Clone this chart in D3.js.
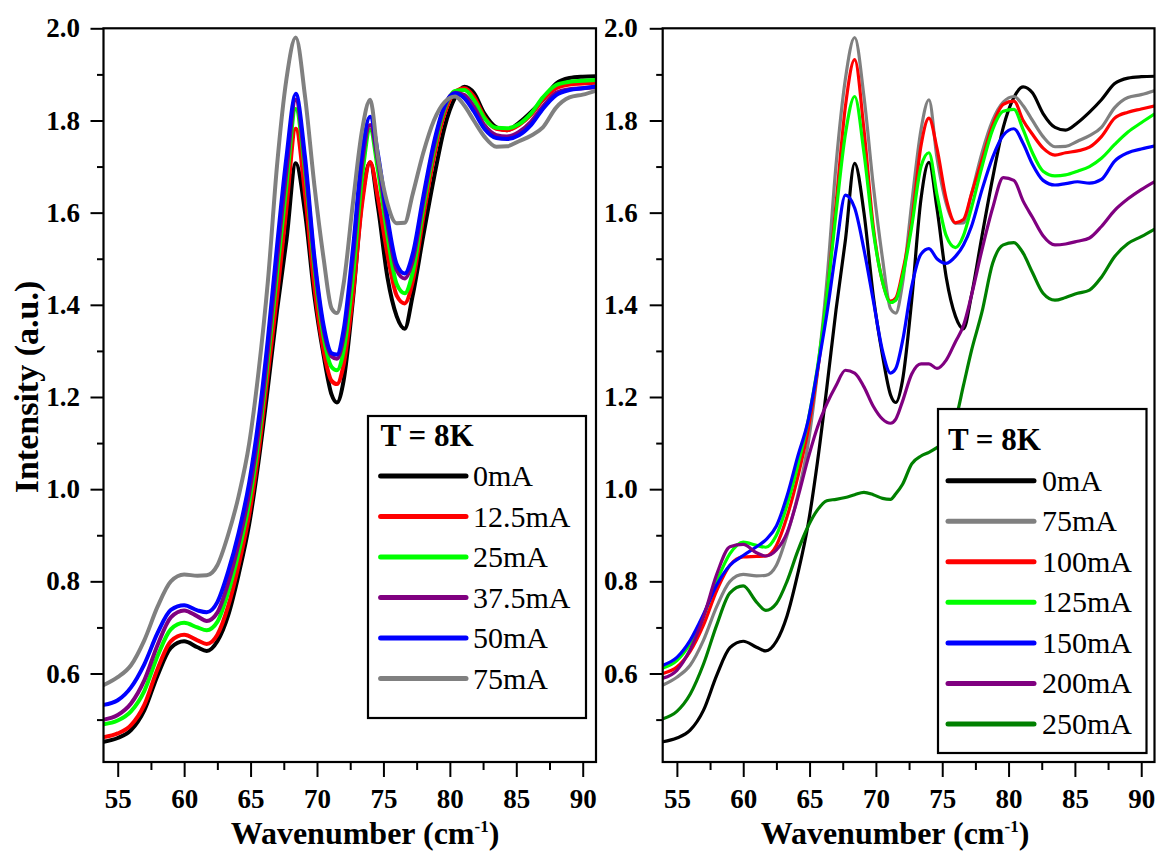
<!DOCTYPE html>
<html><head><meta charset="utf-8">
<script src="https://cdn.jsdelivr.net/npm/d3@7"></script>
<style>
html,body{margin:0;padding:0;background:#fff;}
svg{display:block;}
text{font-family:"Liberation Serif","Times New Roman",serif;fill:#000;}
</style></head><body>
<svg id="chart" width="1157" height="853"></svg>
<script>
// ---- data ----
const wavenumber = [53.95,55,56,57,58,59,60,61,61.7,62.5,63.3,64.1,64.9,65.6,66.3,67,67.7,68.4,69.1,69.8,70.5,71.1,71.5,72,72.7,73.4,74,74.6,75.3,76,76.6,77.2,78,78.8,79.6,80.4,81.1,81.8,82.6,83.5,84.3,85.2,86.1,87,88,89,90,91.05];

const s0mA   = [0.452,0.460,0.477,0.520,0.596,0.656,0.670,0.657,0.649,0.670,0.725,0.815,0.925,1.060,1.220,1.390,1.540,1.707,1.600,1.420,1.290,1.205,1.188,1.235,1.410,1.630,1.709,1.610,1.460,1.375,1.348,1.420,1.550,1.675,1.785,1.850,1.873,1.860,1.815,1.785,1.779,1.795,1.818,1.845,1.880,1.892,1.895,1.896];
const s12_5mA= [0.462,0.470,0.488,0.532,0.610,0.670,0.684,0.672,0.664,0.684,0.745,0.835,0.945,1.080,1.250,1.420,1.610,1.782,1.640,1.440,1.300,1.235,1.228,1.270,1.420,1.620,1.710,1.630,1.510,1.420,1.403,1.450,1.590,1.720,1.815,1.862,1.870,1.852,1.808,1.782,1.779,1.790,1.812,1.845,1.870,1.878,1.880,1.882];
const s25mA  = [0.490,0.498,0.518,0.562,0.638,0.696,0.710,0.700,0.694,0.712,0.775,0.862,0.972,1.105,1.280,1.470,1.660,1.825,1.690,1.480,1.330,1.265,1.258,1.300,1.460,1.680,1.780,1.690,1.550,1.445,1.425,1.470,1.610,1.735,1.825,1.864,1.866,1.845,1.805,1.784,1.783,1.792,1.815,1.850,1.877,1.884,1.886,1.888];
const s37_5mA= [0.500,0.510,0.535,0.585,0.662,0.722,0.737,0.724,0.714,0.732,0.795,0.882,0.992,1.125,1.300,1.500,1.690,1.845,1.705,1.495,1.345,1.288,1.283,1.330,1.500,1.710,1.790,1.710,1.575,1.475,1.457,1.495,1.625,1.745,1.830,1.860,1.855,1.830,1.790,1.768,1.765,1.775,1.797,1.830,1.860,1.868,1.870,1.872];
const s50mA  = [0.532,0.542,0.570,0.620,0.688,0.738,0.748,0.737,0.733,0.755,0.820,0.905,1.015,1.150,1.325,1.530,1.720,1.858,1.720,1.505,1.355,1.295,1.292,1.345,1.520,1.730,1.808,1.725,1.590,1.488,1.468,1.510,1.635,1.752,1.832,1.859,1.848,1.820,1.782,1.762,1.760,1.768,1.790,1.825,1.855,1.866,1.870,1.874];
const s75mA  = [0.575,0.592,0.618,0.672,0.745,0.800,0.815,0.812,0.813,0.835,0.900,0.985,1.100,1.255,1.450,1.705,1.890,1.980,1.852,1.660,1.500,1.392,1.382,1.445,1.620,1.780,1.845,1.720,1.620,1.577,1.578,1.640,1.730,1.800,1.840,1.852,1.832,1.800,1.765,1.743,1.744,1.755,1.767,1.785,1.828,1.850,1.856,1.865];
const s100mA = [0.600,0.614,0.648,0.705,0.780,0.835,0.853,0.854,0.855,0.878,0.940,1.025,1.130,1.255,1.418,1.620,1.830,1.932,1.780,1.570,1.450,1.408,1.415,1.470,1.580,1.745,1.805,1.740,1.630,1.578,1.585,1.640,1.715,1.790,1.835,1.842,1.800,1.770,1.740,1.725,1.730,1.734,1.742,1.765,1.805,1.818,1.825,1.832];
const s125mA = [0.612,0.628,0.665,0.725,0.800,0.860,0.885,0.878,0.874,0.900,0.965,1.050,1.150,1.265,1.418,1.600,1.770,1.852,1.730,1.560,1.450,1.405,1.410,1.460,1.570,1.700,1.730,1.640,1.550,1.524,1.550,1.610,1.700,1.780,1.820,1.824,1.780,1.730,1.690,1.680,1.682,1.690,1.700,1.718,1.748,1.775,1.795,1.815];
const s150mA = [0.618,0.635,0.672,0.728,0.792,0.835,0.856,0.875,0.890,0.920,0.985,1.070,1.150,1.260,1.380,1.520,1.638,1.610,1.520,1.410,1.300,1.252,1.262,1.320,1.440,1.510,1.522,1.500,1.490,1.505,1.530,1.570,1.650,1.720,1.768,1.782,1.750,1.705,1.670,1.660,1.663,1.667,1.664,1.672,1.712,1.730,1.738,1.745];
const s200mA = [0.590,0.607,0.652,0.722,0.815,0.875,0.880,0.862,0.855,0.868,0.905,0.980,1.068,1.135,1.185,1.225,1.258,1.252,1.222,1.180,1.152,1.143,1.152,1.190,1.250,1.272,1.272,1.262,1.280,1.320,1.355,1.420,1.520,1.610,1.676,1.670,1.625,1.590,1.550,1.530,1.532,1.538,1.545,1.570,1.605,1.630,1.650,1.668];
const s250mA = [0.502,0.518,0.555,0.620,0.705,0.775,0.790,0.755,0.737,0.752,0.800,0.865,0.920,0.955,0.975,0.978,0.982,0.988,0.993,0.988,0.980,0.978,0.990,1.010,1.055,1.072,1.080,1.090,1.105,1.150,1.225,1.300,1.385,1.490,1.530,1.535,1.512,1.470,1.425,1.410,1.416,1.425,1.432,1.460,1.505,1.533,1.548,1.565];

const leftLabels  = ["0mA","12.5mA","25mA","37.5mA","50mA","75mA"];
const leftSeries  = [s0mA,s12_5mA,s25mA,s37_5mA,s50mA,s75mA];
const leftColors  = ["#000000","#ff0000","#00ff00","#800080","#0000ff","#808080"];
const rightLabels = ["0mA","75mA","100mA","125mA","150mA","200mA","250mA"];
const rightSeries = [s0mA,s75mA,s100mA,s125mA,s150mA,s200mA,s250mA];
const rightColors = ["#000000","#808080","#ff0000","#00ff00","#0000ff","#800080","#008000"];

const xMajorTicks = [55,60,65,70,75,80,85,90];
const xMinorTicks = [57.5,62.5,67.5,72.5,77.5,82.5,87.5];
const yMajorTicks = [0.6,0.8,1.0,1.2,1.4,1.6,1.8,2.0];
const yMinorTicks = [0.5,0.7,0.9,1.1,1.3,1.5,1.7,1.9];
const legendTitle = "T = 8K";
const xTitle = "Wavenumber (cm";
const yTitle = "Intensity (a.u.)";

// ---- layout ----
const svg = d3.select("#chart");
const yTop = 28.3, yBottom = 762;
const y = d3.scaleLinear().domain([0.408, 2.0]).range([yBottom, yTop]);

const panels = [
  {x0:103.5, x1:596, series:leftSeries, labels:leftLabels, colors:leftColors, lw:4, labelPad:10.5, titleX:365,
   legend:{x:368, y:416, w:218, h:302, titleY:446, row0:476, step:40.5, lx0:380.6, lx1:466, tx:473}},
  {x0:662.7, x1:1154.5, series:rightSeries, labels:rightLabels, colors:rightColors, lw:3.2, labelPad:12, titleX:895,
   legend:{x:938, y:409, w:208.5, h:344, titleY:450, row0:480.7, step:40.55, lx0:948, lx1:1034, tx:1042}}
];

panels.forEach((p, pi) => {
  const x = d3.scaleLinear().domain([53.93, 91.0]).range([p.x0, p.x1]);
  const g = svg.append("g");

  const clipId = "clip" + pi;
  svg.append("clipPath").attr("id", clipId).append("rect")
    .attr("x", p.x0).attr("y", yTop).attr("width", p.x1 - p.x0).attr("height", yBottom - yTop);

  const line = d3.line().x((d, i) => x(wavenumber[i])).y(d => y(d)).curve(d3.curveMonotoneX);
  const lines = g.append("g").attr("clip-path", `url(#${clipId})`);
  p.series.forEach((s, i) => {
    lines.append("path").datum(s).attr("d", line)
      .attr("fill", "none").attr("stroke", p.colors[i]).attr("stroke-width", p.lw)
      .attr("stroke-linejoin", "round").attr("stroke-linecap", "round");
  });

  // axes
  const styleAxis = sel => {
    sel.select(".domain").remove();
    sel.selectAll("line").attr("stroke", "#000").attr("stroke-width", 2);
    sel.selectAll("text").attr("font-family", '"Liberation Serif","Times New Roman",serif')
      .attr("font-weight", "bold").attr("font-size", 27).attr("fill", "#000");
  };
  g.append("g").attr("transform", `translate(${p.x0},0)`)
    .call(d3.axisLeft(y).tickValues(yMajorTicks).tickSize(13).tickPadding(p.labelPad).tickFormat(d3.format(".1f")))
    .call(styleAxis);
  g.append("g").attr("transform", `translate(${p.x0},0)`)
    .call(d3.axisLeft(y).tickValues(yMinorTicks).tickSize(6.5).tickFormat(""))
    .call(styleAxis);
  g.append("g").attr("transform", `translate(0,${yBottom})`)
    .call(d3.axisBottom(x).tickValues(xMajorTicks).tickSize(15).tickPadding(12).tickFormat(d3.format("d")))
    .call(styleAxis);
  g.append("g").attr("transform", `translate(0,${yBottom})`)
    .call(d3.axisBottom(x).tickValues(xMinorTicks).tickSize(8).tickFormat(""))
    .call(styleAxis);

  // frame
  g.append("rect").attr("x", p.x0).attr("y", yTop).attr("width", p.x1 - p.x0).attr("height", yBottom - yTop)
    .attr("fill", "none").attr("stroke", "#000").attr("stroke-width", 2.2);

  // x title
  const xt = g.append("text").attr("x", p.titleX).attr("y", 844).attr("text-anchor", "middle")
    .attr("font-weight", "bold").attr("font-size", 32);
  xt.append("tspan").text(xTitle);
  xt.append("tspan").text("-1").attr("font-size", 17).attr("dy", -12);
  xt.append("tspan").text(")").attr("dy", 12);

  // legend
  const L = p.legend;
  const lg = g.append("g");
  lg.append("rect").attr("x", L.x).attr("y", L.y).attr("width", L.w).attr("height", L.h)
    .attr("fill", "#fff").attr("stroke", "#000").attr("stroke-width", 2.2);
  lg.append("text").attr("x", L.lx0).attr("y", L.titleY).attr("font-weight", "bold").attr("font-size", 31)
    .attr("xml:space", "preserve").text(legendTitle);
  p.labels.forEach((lab, i) => {
    const ry = L.row0 + i * L.step;
    lg.append("line").attr("x1", L.lx0).attr("x2", L.lx1).attr("y1", ry).attr("y2", ry)
      .attr("stroke", p.colors[i]).attr("stroke-width", 5).attr("stroke-linecap", "round");
    lg.append("text").attr("x", L.tx).attr("y", ry + 10).attr("font-size", 30).text(lab);
  });
});

// y title
svg.append("text").attr("transform", "translate(38,387) rotate(-90)").attr("text-anchor", "middle")
  .attr("font-weight", "bold").attr("font-size", 34).text(yTitle);
</script>
</body></html>
